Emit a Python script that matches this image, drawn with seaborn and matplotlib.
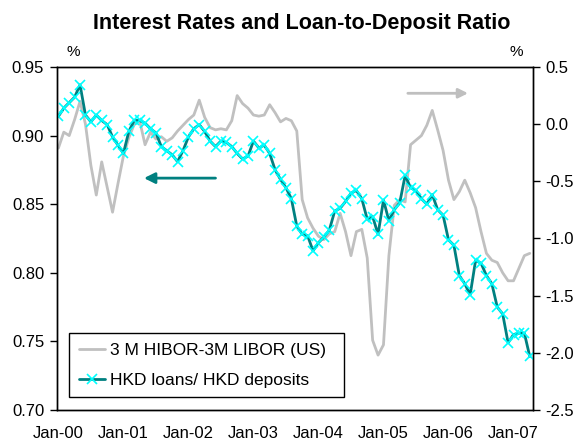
import numpy as np
import pandas as pd
import matplotlib
matplotlib.use("Agg")
import matplotlib.pyplot as plt
import seaborn as sns
from matplotlib.ticker import FormatStrFormatter, FixedLocator

# ---- data (monthly, Jan-2000 .. Apr-2007) ----
month_index = list(range(88))
year_ticks = [0, 12, 24, 36, 48, 60, 72, 84]
year_labels = ["Jan-00", "Jan-01", "Jan-02", "Jan-03", "Jan-04", "Jan-05", "Jan-06", "Jan-07"]

loan_deposit_ratio = [
    0.914, 0.920, 0.924, 0.928, 0.937, 0.915, 0.910, 0.915, 0.911, 0.908,
    0.899, 0.893, 0.887, 0.903, 0.911, 0.911, 0.909, 0.905, 0.902, 0.892,
    0.889, 0.886, 0.881, 0.889, 0.899, 0.905, 0.908, 0.903, 0.896, 0.892,
    0.896, 0.895, 0.892, 0.887, 0.883, 0.885, 0.896, 0.891, 0.893, 0.887,
    0.875, 0.868, 0.862, 0.854, 0.834, 0.828, 0.827, 0.816, 0.822, 0.826,
    0.831, 0.845, 0.847, 0.852, 0.858, 0.860, 0.854, 0.839, 0.841, 0.828,
    0.853, 0.838, 0.846, 0.851, 0.871, 0.862, 0.860, 0.854, 0.850, 0.857,
    0.846, 0.842, 0.824, 0.820, 0.798, 0.792, 0.784, 0.809, 0.807, 0.798,
    0.792, 0.775, 0.770, 0.749, 0.755, 0.756, 0.756, 0.739,
]

hibor_libor_spread = [
    -0.21, -0.07, -0.10, 0.04, 0.20, 0.00, -0.36, -0.62, -0.33, -0.55,
    -0.77, -0.52, -0.28, -0.12, 0.00, 0.03, -0.18, -0.07, -0.13, -0.11,
    -0.15, -0.12, -0.06, -0.01, 0.04, 0.08, 0.21, 0.06, -0.03, -0.05,
    -0.04, -0.05, 0.03, 0.25, 0.18, 0.14, 0.08, 0.07, 0.08, 0.17,
    0.10, 0.02, 0.05, 0.03, -0.06, -0.66, -0.82, -0.91, -0.98, -1.01,
    -0.96, -0.94, -0.78, -0.94, -1.15, -0.94, -0.92, -1.17, -1.89, -2.02,
    -1.93, -1.15, -0.71, -0.66, -0.68, -0.18, -0.14, -0.10, -0.01, 0.12,
    -0.05, -0.23, -0.49, -0.66, -0.59, -0.49, -0.60, -0.73, -0.94, -1.13,
    -1.19, -1.21, -1.30, -1.37, -1.37, -1.26, -1.15, -1.13,
]

left_ticks = [0.70, 0.75, 0.80, 0.85, 0.90, 0.95]
right_ticks = [-2.5, -2.0, -1.5, -1.0, -0.5, 0.0, 0.5]

series_gray = "3 M HIBOR-3M LIBOR (US)"
series_teal = "HKD loans/ HKD deposits"

df = pd.DataFrame({
    "month": month_index,
    "ratio": loan_deposit_ratio,
    "spread": hibor_libor_spread,
})

# ---- style ----
sns.set_style("white")
plt.rcParams["font.family"] = ["Liberation Sans", "DejaVu Sans"]
plt.rcParams["axes.unicode_minus"] = False
plt.rcParams["text.color"] = "black"

TEAL = "#008080"
CYAN = "#00FFFF"
GRAY = "#C0C0C0"

fig = plt.figure(figsize=(5.79, 4.41), dpi=100)
ax = fig.add_axes([0.098, 0.0703, 0.8226, 0.7778])
ax2 = ax.twinx()

# gray spread on right axis
sns.lineplot(data=df, x="month", y="spread", ax=ax2, color=GRAY, linewidth=2.0,
             label=series_gray, legend=False)
# teal ratio on left axis
sns.lineplot(data=df, x="month", y="ratio", ax=ax, color=TEAL, linewidth=2.0,
             marker="x", markersize=7, markeredgecolor=CYAN, markeredgewidth=1.2,
             label=series_teal, legend=False)

ax.set_zorder(ax2.get_zorder() + 1)
ax.patch.set_visible(False)

ax.set_xlim(-0.3, 87.6)
ax.set_ylim(0.70, 0.95)
ax2.set_ylim(-2.5, 0.5)

ax.xaxis.set_major_locator(FixedLocator(year_ticks))
ax.set_xticklabels(year_labels)
ax.set_yticks(left_ticks)
ax.yaxis.set_major_formatter(FormatStrFormatter("%.2f"))
ax2.set_yticks(right_ticks)
ax2.yaxis.set_major_formatter(FormatStrFormatter("%.1f"))

ax.set_xlabel("")
ax.set_ylabel("")
ax2.set_ylabel("")

for a in (ax, ax2):
    for s in a.spines.values():
        s.set_color("black")
        s.set_linewidth(1.0)
ax.tick_params(axis="both", direction="out", length=5, width=1, color="black",
               labelsize=12, labelcolor="black", pad=4)
ax.tick_params(axis="x", pad=6.5)
ax2.tick_params(axis="y", direction="out", length=5, width=1, color="black",
                labelsize=12, labelcolor="black", pad=4)

# arrows
ax.annotate("", xy=(15.8, 0.869), xytext=(29.0, 0.869),
            arrowprops=dict(arrowstyle="-|>", color=TEAL, lw=2, mutation_scale=16,
                            shrinkA=0, shrinkB=0))
ax2.annotate("", xy=(75.6, 0.27), xytext=(64.5, 0.27),
             arrowprops=dict(arrowstyle="-|>", color="#BFBFBF", lw=2, mutation_scale=14,
                             shrinkA=0, shrinkB=0))

# % labels
fig.text(73 / 579, 1 - 52 / 441, "%", fontsize=11, ha="center", va="center")
fig.text(516 / 579, 1 - 52 / 441, "%", fontsize=11, ha="center", va="center")

# title
fig.text(302 / 579, 1 - 23 / 441, "Interest Rates and Loan-to-Deposit Ratio",
         fontsize=15.5, fontweight="bold", ha="center", va="center", color="black")

# legend
h1, l1 = ax2.get_legend_handles_labels()
h2, l2 = ax.get_legend_handles_labels()
leg = ax.legend(h1 + h2, l1 + l2, loc="lower left",
                bbox_to_anchor=(0.026, 0.037, 0.577, 0.188), mode="expand",
                frameon=True, fancybox=False, edgecolor="black", framealpha=1,
                fontsize=12.5, handlelength=1.5, handletextpad=0.3,
                labelspacing=0.85, borderpad=0.55, borderaxespad=0)
leg.get_frame().set_linewidth(1.0)
for t in leg.get_texts():
    t.set_color("black")

fig.savefig("out.png", dpi=100)
